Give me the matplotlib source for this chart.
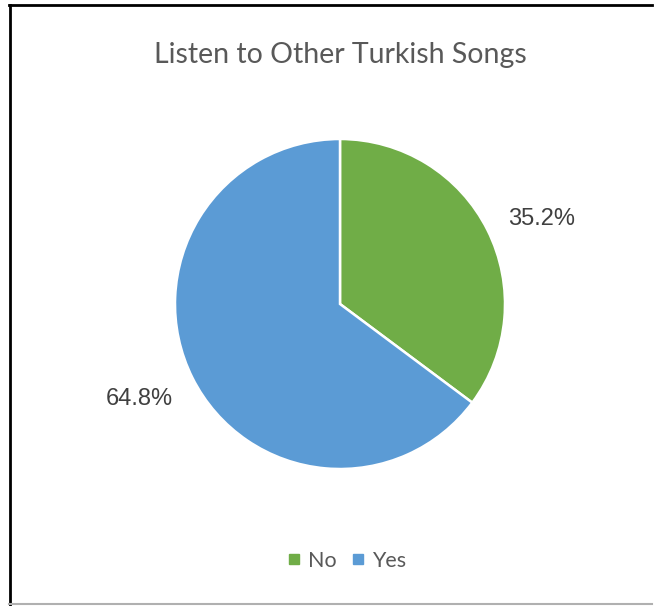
import matplotlib.pyplot as plt
from matplotlib.lines import Line2D

# Chart data
labels = ["No", "Yes"]
values = [35.2, 64.8]
colors = ["#70AD47", "#5B9BD5"]
title = "Listen to Other Turkish Songs"

W, H = 661, 606
fig = plt.figure(figsize=(W / 100, H / 100), dpi=100)

# pie axes: centre (340, 304) px, radius 165 px
cx, cy, r = 340, 304, 165
ax = fig.add_axes([(cx - r) / W, (H - cy - r) / H, 2 * r / W, 2 * r / H])
wedges, texts, autotexts = ax.pie(
    values, colors=colors, startangle=90, counterclock=False,
    autopct="%.1f%%", pctdistance=1.33,
    wedgeprops=dict(edgecolor="white", linewidth=1.8),
    textprops=dict(fontsize=17, color="#404040", family="Liberation Sans"),
)
# small nudges so labels sit where Excel put them
x, y = autotexts[0].get_position()
autotexts[0].set_position((x + 0.03, y - 0.08))
x, y = autotexts[1].get_position()
autotexts[1].set_position((x - 0.03, y + 0.02))
ax.set_xlim(-1, 1)
ax.set_ylim(-1, 1)
ax.set_aspect("equal")

fig.text(0.5 * (152 + 528) / W, 1 - 55 / H, title, ha="center", va="center",
         fontsize=20.5, color="#595959", family="Lato")

handles = [Line2D([], [], marker="s", linestyle="none", markersize=6.5,
                  markerfacecolor=c, markeredgecolor=c) for c in colors]
fig.legend(handles, labels, loc="center", bbox_to_anchor=(347 / W, 1 - 561 / H),
           ncol=2, frameon=False, handlelength=0.6, handletextpad=0.35,
           columnspacing=0.7, prop=dict(family="Lato", size=15.5), labelcolor="#595959")

# chart border
fig.add_artist(Line2D([9 / W, 652 / W], [1 - 5 / H, 1 - 5 / H], color="black", lw=2))
fig.add_artist(Line2D([9.5 / W, 9.5 / W], [1 - 5 / H, 0], color="black", lw=2))
fig.add_artist(Line2D([9 / W, 652 / W], [1 - 604 / H, 1 - 604 / H], color="#B0B0B0", lw=1.5))

fig.savefig("out.png", dpi=100)
